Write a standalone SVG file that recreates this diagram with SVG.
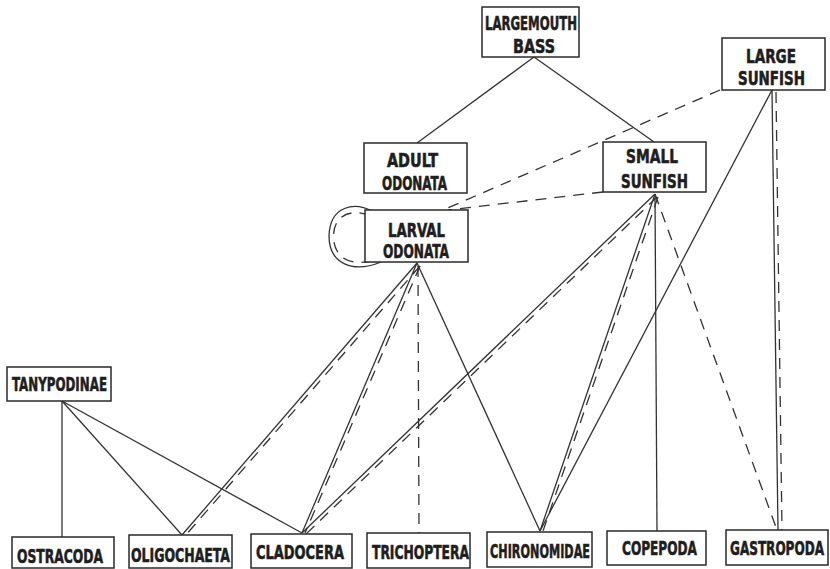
<svg xmlns="http://www.w3.org/2000/svg" width="830" height="569" viewBox="0 0 830 569">
<style>
.box{fill:#fff;stroke:#2a2a2a;stroke-width:1.5}
.t{font-family:"DejaVu Sans Condensed","Liberation Sans Narrow","Liberation Sans",sans-serif;font-weight:bold;font-size:20px;fill:#1e1e1e;stroke:#1e1e1e;stroke-width:0.6}
.s{fill:none;stroke:#333;stroke-width:1.3}
.d{fill:none;stroke:#333;stroke-width:1.3;stroke-dasharray:11 8}
</style>
<rect width="830" height="569" fill="#fff"/>
<g id="connectors">
<line class="s" x1="534" y1="57" x2="417" y2="143"/>
<line class="s" x1="534" y1="57" x2="654" y2="142"/>
<line class="d" x1="720" y1="90" x2="443" y2="210"/>
<line class="d" x1="603" y1="192" x2="448" y2="210"/>
<path class="s" d="M372,211 C355,202 330,205 329,236 C329,263 352,274 381,262"/>
<path class="d" d="M370,216 C355,209 334,212 333.5,236 C333.5,259 352,268 378,259"/>
<line class="s" x1="772" y1="90" x2="778" y2="530"/>
<line class="d" x1="776" y1="92" x2="782" y2="530"/>
<line class="s" x1="772" y1="90" x2="540" y2="531"/>
<line class="s" x1="417" y1="263" x2="182" y2="535"/>
<line class="d" x1="420" y1="266" x2="185" y2="536"/>
<line class="s" x1="417" y1="263" x2="302" y2="533"/>
<line class="d" x1="420" y1="266" x2="305" y2="533"/>
<line class="d" x1="418" y1="266" x2="419" y2="533"/>
<line class="s" x1="417" y1="263" x2="540" y2="531"/>
<line class="s" x1="655" y1="194" x2="302" y2="533"/>
<line class="d" x1="657" y1="197" x2="305" y2="535"/>
<line class="s" x1="655" y1="194" x2="540" y2="531"/>
<line class="d" x1="658" y1="197" x2="543" y2="531"/>
<line class="s" x1="655" y1="194" x2="657" y2="531"/>
<line class="d" x1="655" y1="194" x2="777" y2="530"/>
<line class="s" x1="62" y1="401" x2="62" y2="537"/>
<line class="s" x1="62" y1="401" x2="182" y2="535"/>
<line class="s" x1="62" y1="401" x2="302" y2="533"/>
</g>
<g id="largemouth-bass"><rect class="box" x="482" y="7" width="97" height="50"/><text class="t" transform="translate(485,30) scale(0.7,1)" textLength="131.4" lengthAdjust="spacingAndGlyphs">LARGEMOUTH</text><text class="t" transform="translate(513,53) scale(0.7,1)" textLength="60" lengthAdjust="spacingAndGlyphs">BASS</text></g>
<g id="large-sunfish"><rect class="box" x="722" y="38" width="103" height="52"/><text class="t" transform="translate(746,63) scale(0.7,1)" textLength="71.4" lengthAdjust="spacingAndGlyphs">LARGE</text><text class="t" transform="translate(738,85) scale(0.7,1)" textLength="95.7" lengthAdjust="spacingAndGlyphs">SUNFISH</text></g>
<g id="small-sunfish"><rect class="box" x="603" y="142" width="103" height="50"/><text class="t" transform="translate(626,163) scale(0.7,1)" textLength="74.3" lengthAdjust="spacingAndGlyphs">SMALL</text><text class="t" transform="translate(621,188) scale(0.7,1)" textLength="95.7" lengthAdjust="spacingAndGlyphs">SUNFISH</text></g>
<g id="adult-odonata"><rect class="box" x="364" y="143" width="103" height="50"/><text class="t" transform="translate(387,167) scale(0.7,1)" textLength="72.9" lengthAdjust="spacingAndGlyphs">ADULT</text><text class="t" transform="translate(382,190) scale(0.7,1)" textLength="92.9" lengthAdjust="spacingAndGlyphs">ODONATA</text></g>
<g id="larval-odonata"><rect class="box" x="365" y="210" width="103" height="52"/><text class="t" transform="translate(388,237) scale(0.7,1)" textLength="81.4" lengthAdjust="spacingAndGlyphs">LARVAL</text><text class="t" transform="translate(383,258) scale(0.7,1)" textLength="94.3" lengthAdjust="spacingAndGlyphs">ODONATA</text></g>
<g id="tanypodinae"><rect class="box" x="7" y="367" width="104" height="34"/><text class="t" transform="translate(12,391) scale(0.7,1)" textLength="135.7" lengthAdjust="spacingAndGlyphs">TANYPODINAE</text></g>
<g id="ostracoda"><rect class="box" x="12" y="537" width="102" height="31"/><text class="t" transform="translate(17,563) scale(0.7,1)" textLength="122.9" lengthAdjust="spacingAndGlyphs">OSTRACODA</text></g>
<g id="oligochaeta"><rect class="box" x="129" y="535" width="103" height="33"/><text class="t" transform="translate(131,562) scale(0.7,1)" textLength="141.4" lengthAdjust="spacingAndGlyphs">OLIGOCHAETA</text></g>
<g id="cladocera"><rect class="box" x="251" y="534" width="101" height="34"/><text class="t" transform="translate(256,559) scale(0.7,1)" textLength="125.7" lengthAdjust="spacingAndGlyphs">CLADOCERA</text></g>
<g id="trichoptera"><rect class="box" x="367" y="533" width="103" height="35"/><text class="t" transform="translate(372,559) scale(0.7,1)" textLength="138.6" lengthAdjust="spacingAndGlyphs">TRICHOPTERA</text></g>
<g id="chironomidae"><rect class="box" x="487" y="532" width="105" height="35"/><text class="t" transform="translate(490,558) scale(0.7,1)" textLength="142.9" lengthAdjust="spacingAndGlyphs">CHIRONOMIDAE</text></g>
<g id="copepoda"><rect class="box" x="607" y="531" width="99" height="34"/><text class="t" transform="translate(622,555) scale(0.7,1)" textLength="107.1" lengthAdjust="spacingAndGlyphs">COPEPODA</text></g>
<g id="gastropoda"><rect class="box" x="726" y="530" width="102" height="35"/><text class="t" transform="translate(730,555) scale(0.7,1)" textLength="134.3" lengthAdjust="spacingAndGlyphs">GASTROPODA</text></g>
</svg>
